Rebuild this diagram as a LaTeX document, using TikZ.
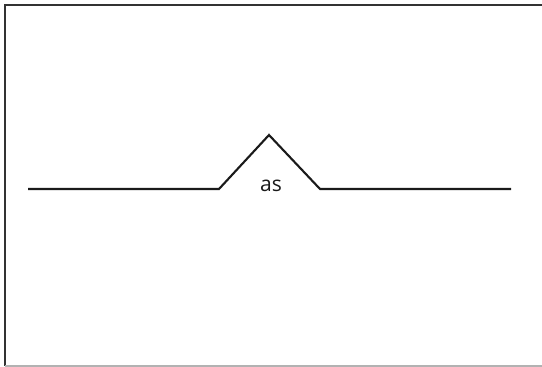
\documentclass[tikz,border=0pt]{standalone}
\usepackage{fontspec}
\setmainfont{Open Sans}
\usetikzlibrary{positioning}
\definecolor{cframe}{HTML}{333333}
\definecolor{cline}{HTML}{1A1A1A}
\tikzset{
  every picture/.style={line width=1.2pt},
  frame/.style={draw=cframe, line width=1.3pt},
  wire/.style={draw=cline, line width=1.2pt, line join=miter},
  lbl/.style={font=\large, text=cline, inner sep=1pt},
}
\begin{document}
\begin{tikzpicture}[x=0.02cm, y=-0.02cm]
  \useasboundingbox (0,0) rectangle (542,367);
  % frame
  \draw[frame] (5,366) -- (5,5) -- (542,5);
  \draw[draw=gray!60, line width=1.2pt] (5,366) -- (542,366);
  % bump
  \coordinate (start) at (28,189);
  \coordinate (left) at (219,189);
  \coordinate (peak) at (269,135);
  \coordinate (right) at (320,189);
  \coordinate (stop) at (511,189);
  \draw[wire] (start) -- (left) -- (peak) -- (right) -- (stop);
  \node[lbl] (as) at (271,186) {as};
\end{tikzpicture}
\end{document}
